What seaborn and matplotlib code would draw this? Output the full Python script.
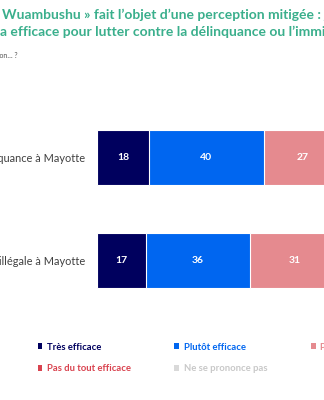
import matplotlib
matplotlib.use("Agg")
import matplotlib.pyplot as plt
from matplotlib.patches import Patch
import seaborn as sns
import pandas as pd
import numpy as np

categories = ["Lutter contre la délinquance à Mayotte",
              "Lutter contre l’immigration illégale à Mayotte"]
series = ["Très efficace", "Plutôt efficace", "Plutôt pas efficace",
          "Pas du tout efficace", "Ne se prononce pas"]
tres = [18, 17]
plutot = [40, 36]
plutot_pas = [27, 31]
pas_du_tout = [11, 12]
nsp = [4, 4]
colors = ["#00005E", "#0066F0", "#E58A8F", "#D9434F", "#D9D9D9"]
text_colors = ["#00005E", "#0066F0", "#E58A8F", "#D9434F", "#C8C8C8"]

sns.set_theme(style="white")
plt.rcParams["font.family"] = ["Lato", "DejaVu Sans"]

vals = np.array([tres, plutot, plutot_pas, pas_du_tout, nsp], dtype=float)
cum = vals.cumsum(axis=0)

fig = plt.figure(figsize=(3.24, 4.0), dpi=100)
ax = fig.add_axes([97/324, 88/400, 288/324, 206/400])

for i in range(len(series) - 1, -1, -1):
    df = pd.DataFrame({"cat": categories, "val": cum[i]})
    sns.barplot(data=df, x="val", y="cat", color=colors[i], orient="h",
                width=0.535, edgecolor="white", linewidth=0.8, ax=ax,
                saturation=1)

for j in range(len(categories)):
    for i in range(len(series)):
        v = vals[i, j]
        if i < 3:
            ax.text(cum[i, j] - v / 2, j, f"{int(v)}", ha="center", va="center",
                    color="white", fontsize=7.5, fontweight="bold")

ax.set_xlim(0, 100)
ax.set_ylim(1.5, -0.5)
ax.set_xlabel("")
ax.set_ylabel("")
ax.set_xticks([])
ax.tick_params(axis="y", length=0, pad=8.5, labelsize=7.9, labelcolor="#404040")
for s in ax.spines.values():
    s.set_visible(False)

fig.text(2/324, 1 - 15/400, "Wuambushu » fait l’objet d’une perception mitigée : jugée",
         ha="left", va="center", fontsize=10, fontweight="bold", color="#3AAF8C")
fig.text(0/324, 1 - 32/400, "a efficace pour lutter contre la délinquance ou l’immigration illégale",
         ha="left", va="center", fontsize=10, fontweight="bold", color="#3AAF8C")
fig.text(18/324, 1 - 56/400, "efficace ou non… ?", ha="right", va="center",
         fontsize=5, color="#555555")

order = [0, 3, 1, 4, 2]
handles = [Patch(facecolor=colors[k], edgecolor="none") for k in order]
labels = [series[k] for k in order]
leg = fig.legend(handles, labels, ncol=3, loc="upper left",
                 bbox_to_anchor=(29/324, 1 - 334/400), frameon=False,
                 handlelength=0.5, handleheight=0.5,
                 handletextpad=0.5, columnspacing=4.6, labelspacing=1.35,
                 prop={"weight": "bold", "size": 6.8})
for t, k in zip(leg.get_texts(), order):
    t.set_color(text_colors[k])

fig.savefig("out.png", dpi=100)
